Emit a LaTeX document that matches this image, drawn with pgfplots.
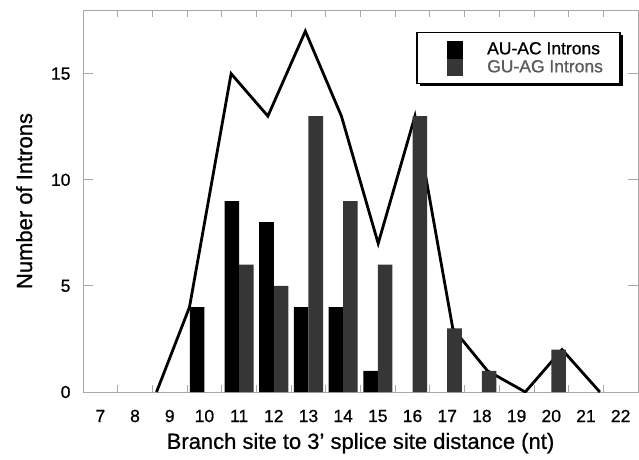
\documentclass[border=0pt]{standalone}
\usepackage{fontspec}
\setmainfont{Liberation Sans}[FakeBold=0.8]
\usepackage{pgfplots}
\pgfplotsset{compat=1.18}
\definecolor{guag}{HTML}{363636}
\definecolor{framegray}{HTML}{A8A8A8}
\definecolor{legtext}{HTML}{5A5A5A}
\begin{document}
\begin{tikzpicture}
\begin{axis}[
  scale only axis, width=555pt, height=382pt,
  xmin=6.5, xmax=22.5, ymin=0, ymax=18,
  xtick={7,...,22}, ytick={0,5,10,15},
  minor xtick={7.5,8.5,...,21.5},
  major x tick style={draw=none},
  minor tick length=7pt, major tick length=10pt,
  tick align=inside,
  tick style={framegray, line width=0.8pt},
  axis line style={framegray, line width=0.8pt},
  /pgf/number format/assume math mode=true,
  ticklabel style={font=\fontsize{17.5}{20}\selectfont},
  xticklabel style={anchor=center, yshift=-24pt},
  yticklabel style={xshift=-9pt},
  xlabel={Branch site to 3' splice site distance (nt)},
  ylabel={Number of Introns},
  label style={font=\fontsize{22}{25}\selectfont},
  xlabel style={at={(axis description cs:0.5,-0.134)}, anchor=center},
  ylabel style={at={(axis description cs:-0.106,0.5)}, anchor=center},
]
% total of both classes
\addplot[black, line width=2.8pt, line join=miter] coordinates {
  (8.62,0) (9.57,4) (10.77,15) (11.83,13) (12.91,17) (13.95,13) (15.01,7)
  (16.07,13) (17.16,3) (18.16,1) (19.25,0) (20.31,2) (21.4,0)};
% AU-AC introns
\addplot[ybar, bar width=0.42, bar shift=-0.21, fill=black, draw=none] coordinates {
  (10,4) (11,9) (12,8) (13,4) (14,4) (15,1)};
% GU-AG introns
\addplot[ybar, bar width=0.42, bar shift=0.21, fill=guag, draw=none] coordinates {
  (11,6) (12,5) (13,13) (14,9) (15,6) (16,13) (17,3) (18,1) (20,2)};
\end{axis}
% legend
\fill[black] (337pt,305.7pt) rectangle (540pt,356.7pt);
\draw[black, line width=1.2pt, fill=white] (334pt,308.7pt) rectangle (537pt,359.7pt);
\fill[black] (364pt,333.2pt) rectangle (380pt,350.7pt);
\fill[guag] (364pt,315.7pt) rectangle (380pt,333.2pt);
\node[anchor=west, inner sep=0pt, font=\fontsize{17.5}{20}\selectfont] at (404pt,343.7pt) {AU-AC Introns};
\node[anchor=west, inner sep=0pt, font=\fontsize{17.5}{20}\selectfont, text=legtext] at (404pt,325.7pt) {GU-AG Introns};
\pgfresetboundingbox
\path[use as bounding box] (-83pt,-67pt) rectangle (556pt,392pt);
\end{tikzpicture}
\end{document}
